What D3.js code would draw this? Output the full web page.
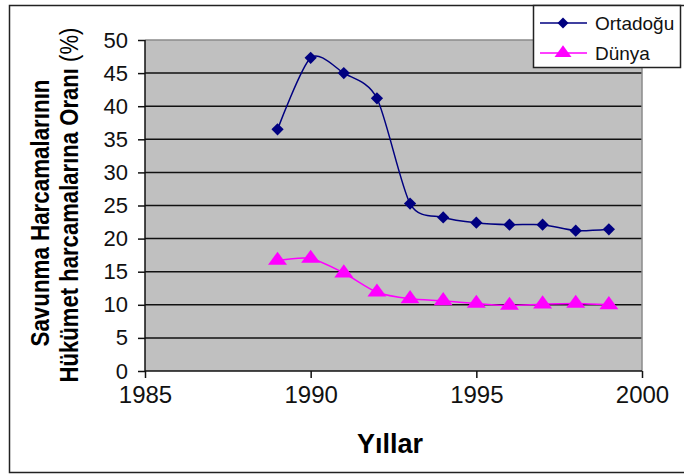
<!DOCTYPE html>
<html>
<head>
<meta charset="utf-8">
<script src="https://cdn.jsdelivr.net/npm/d3@7"></script>
<style>
  html, body { margin: 0; padding: 0; background: #fff; }
  svg { display: block; font-family: Arial, "Liberation Sans", sans-serif; }
</style>
</head>
<body>
<svg id="chart" width="684" height="475"></svg>
<script>
// ── data ────────────────────────────────────────────────────────────────
const years     = [1989, 1990, 1991, 1992, 1993, 1994, 1995, 1996, 1997, 1998, 1999];
const ortadogu  = [36.5, 47.3, 45.0, 41.2, 25.3, 23.2, 22.4, 22.1, 22.1, 21.2, 21.4];
const dunya     = [16.7, 17.0, 14.8, 11.9, 10.9, 10.6, 10.2, 9.9, 10.1, 10.2, 10.0];
const xTicks    = [1985, 1990, 1995, 2000];
const yTicks    = [0, 5, 10, 15, 20, 25, 30, 35, 40, 45, 50];
const seriesNames = ['Ortadoğu', 'Dünya'];

const svg = d3.select('#chart');
const W = 684;

// outer frame
svg.append('rect')
    .attr('x', 9.5).attr('y', 5.5)
    .attr('width', W).attr('height', 467)
    .attr('fill', '#fff').attr('stroke', '#222').attr('stroke-width', 1.5);

const plot = { left: 145, right: 642, top: 40, bottom: 371 };

const x = d3.scaleLinear().domain([1985, 2000]).range([plot.left, plot.right]);
const y = d3.scaleLinear().domain([0, 50]).range([plot.bottom, plot.top]);

// ── plot area ───────────────────────────────────────────────────────────
svg.append('rect')
    .attr('x', plot.left).attr('y', plot.top)
    .attr('width', plot.right - plot.left).attr('height', plot.bottom - plot.top)
    .attr('fill', '#c0c0c0');

// gridlines
svg.append('g')
    .selectAll('line')
    .data(yTicks.filter(t => t > 0 && t < 50))
    .enter().append('line')
    .attr('x1', plot.left).attr('x2', plot.right)
    .attr('y1', d => y(d)).attr('y2', d => y(d))
    .attr('stroke', '#111').attr('stroke-width', 1.5);

// top / right border (gray)
svg.append('path')
    .attr('d', `M${plot.left},${plot.top}H${plot.right}V${plot.bottom}`)
    .attr('fill', 'none').attr('stroke', '#8a8a8a').attr('stroke-width', 1.5);

// ── axes ────────────────────────────────────────────────────────────────
const yAxis = svg.append('g')
    .attr('transform', `translate(${plot.left},0)`)
    .call(d3.axisLeft(y).tickValues(yTicks).tickSize(7).tickPadding(10));
yAxis.selectAll('text').style('font-size', '22px').attr('fill', '#111');

const xAxis = svg.append('g')
    .attr('transform', `translate(0,${plot.bottom})`)
    .call(d3.axisBottom(x).tickValues(xTicks).tickFormat(d3.format('d')).tickSize(7).tickPadding(8));
xAxis.selectAll('text').style('font-size', '24px').attr('fill', '#111');

[yAxis, xAxis].forEach(a => {
    a.select('.domain').attr('stroke', '#111').attr('stroke-width', 1.5);
    a.selectAll('.tick line').attr('stroke', '#111').attr('stroke-width', 1.5);
});
xAxis.select('.domain').attr('d', `M${plot.left},0H${plot.right}`);
yAxis.select('.domain').attr('d', `M0,${plot.bottom}V${plot.top}`);

// ── axis titles ─────────────────────────────────────────────────────────
svg.append('text')
    .attr('transform', 'translate(49,213) rotate(-90)')
    .attr('text-anchor', 'middle')
    .attr('textLength', 267).attr('lengthAdjust', 'spacingAndGlyphs')
    .style('font-size', '25px').style('font-weight', 'bold')
    .text('Savunma Harcamalarının');

const t2 = svg.append('text')
    .attr('transform', 'translate(78,205) rotate(-90)')
    .attr('text-anchor', 'middle')
    .attr('textLength', 355).attr('lengthAdjust', 'spacingAndGlyphs')
    .style('font-size', '25px');
t2.append('tspan').style('font-weight', 'bold').text('Hükümet harcamalarına Oranı ');
t2.append('tspan').text('(%)');

svg.append('text')
    .attr('x', 390).attr('y', 453)
    .attr('text-anchor', 'middle')
    .style('font-size', '27px').style('font-weight', 'bold')
    .text('Yıllar');

// ── series ──────────────────────────────────────────────────────────────
const line = d3.line()
    .x(d => x(d[0])).y(d => y(d[1]))
    .curve(d3.curveCardinal.tension(0.2));

const seriesData = [
    { name: seriesNames[0], values: years.map((yr, i) => [yr, ortadogu[i]]), color: '#000080', symbol: d3.symbolSquare, size: 75, rot: 45 },
    { name: seriesNames[1], values: years.map((yr, i) => [yr, dunya[i]]), color: '#ff00ff', symbol: d3.symbolTriangle, size: 100, rot: 0 }
];

seriesData.forEach(s => {
    svg.append('path')
        .datum(s.values)
        .attr('d', line)
        .attr('fill', 'none')
        .attr('stroke', s.color)
        .attr('stroke-width', 1.5);

    svg.append('g')
        .selectAll('path')
        .data(s.values)
        .enter().append('path')
        .attr('transform', d => `translate(${x(d[0])},${y(d[1])}) rotate(${s.rot}) scale(${s.rot ? 1 : 1.25},1)`)
        .attr('d', d3.symbol().type(s.symbol).size(s.size))
        .attr('fill', s.color);
});

// ── legend ──────────────────────────────────────────────────────────────
const lg = svg.append('g');
lg.append('rect')
    .attr('x', 533.5).attr('y', 5.5).attr('width', 147).attr('height', 62)
    .attr('fill', '#fff').attr('stroke', '#222').attr('stroke-width', 1.5);

seriesData.forEach((s, i) => {
    const ly = 23 + i * 30;
    lg.append('line')
        .attr('x1', 540).attr('x2', 587).attr('y1', ly).attr('y2', ly)
        .attr('stroke', s.color).attr('stroke-width', 1.5);
    lg.append('path')
        .attr('transform', `translate(563,${ly}) rotate(${s.rot}) scale(${s.rot ? 1 : 1.25},1)`)
        .attr('d', d3.symbol().type(s.symbol).size(s.size * 0.8))
        .attr('fill', s.color);
    lg.append('text')
        .attr('x', 595).attr('y', ly + 7)
        .style('font-size', '19px').attr('fill', '#111')
        .text(s.name);
});
</script>
</body>
</html>
